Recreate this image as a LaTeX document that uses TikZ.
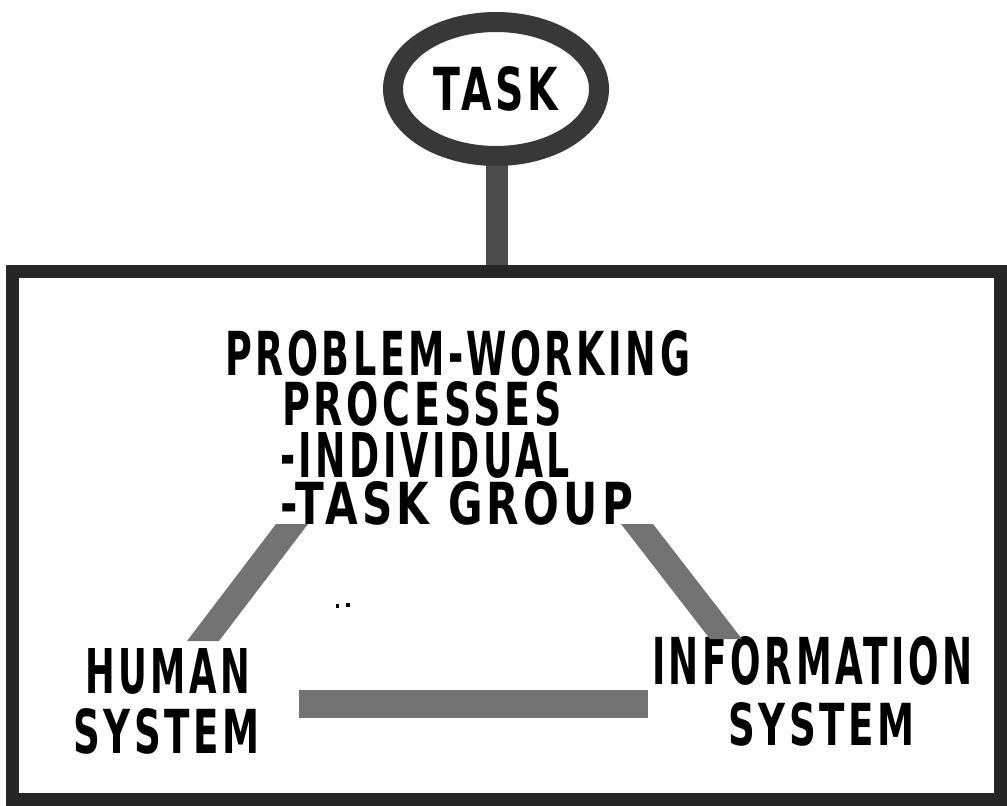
\documentclass[tikz,border=0pt]{standalone}
\usepackage{fontspec}
\setmainfont{DejaVu Sans}
\newfontfamily\pixfont[LetterSpace=10]{DejaVu Sans}
\usepackage{graphicx}
\usetikzlibrary{shapes.geometric,calc}
\newcommand{\fitline}[3]{\resizebox{#1pt}{#2pt}{\pixfont\bfseries #3}}
\begin{document}
\begin{tikzpicture}[x=1pt,y=-1pt,
  lbl/.style={anchor=north west, inner sep=0pt, outer sep=0pt, text=black},
  ringnode/.style={ellipse, draw=black!78, line width=20pt, inner sep=0pt,
    minimum width=206pt, minimum height=134pt},
  framebox/.style={rectangle, draw=black!85, line width=13pt, inner sep=0pt,
    minimum width=988pt, minimum height=528pt},
  stemline/.style={draw=black!70, line width=22pt, line cap=butt},
  barfill/.style={fill=black!55, draw=none},
  speck/.style={fill=black, draw=none}
]
\useasboundingbox (0,0) rectangle (1007,806);

% frame and task sign
\node[framebox] (frame) at (506.5,535.5) {};
\draw[stemline] (497,160) coordinate (stemtop) -- (frame.north -| stemtop);
\node[ringnode] (task) at (496,89) {\fitline{125}{44}{TASK}};

% central text
\node[lbl] (pw1) at (225,330) {\fitline{465}{45}{PROBLEM-WORKING}};
\node[lbl] (pw2) at (282,381) {\fitline{280}{44}{PROCESSES}};
\node[lbl] (pw3) at (280,432) {\fitline{290}{45}{-INDIVIDUAL}};
\node[lbl] (pw4) at (280,481) {\fitline{353}{43}{-TASK GROUP}};

% side labels
\node[lbl] (hum1) at (85,648) {\fitline{165}{45}{HUMAN}};
\node[lbl] (hum2) at (73,708) {\fitline{187}{45}{SYSTEM}};
\node[lbl] (inf1) at (652,636) {\fitline{321}{48}{INFORMATION}};
\node[lbl] (inf2) at (728,702) {\fitline{187}{43}{SYSTEM}};

% connecting bars (horizontal cut ends)
\coordinate (lbtop) at (292,524);
\coordinate (lbbot) at (203,641);
\coordinate (rbtop) at (637,524);
\coordinate (rbbot) at (726,639);
\fill[barfill] ($(lbtop)+(-16,0)$) -- ($(lbtop)+(16,0)$) -- ($(lbbot)+(16,0)$) -- ($(lbbot)+(-16,0)$) -- cycle;
\fill[barfill] ($(rbtop)+(-16,0)$) -- ($(rbtop)+(16,0)$) -- ($(rbbot)+(16,0)$) -- ($(rbbot)+(-16,0)$) -- cycle;
\coordinate (hbl) at (299,690);
\coordinate (hbr) at (648,718);
\fill[barfill] (hbl) rectangle (hbr);

% stray marks
\fill[speck] (336,604) rectangle (339,608);
\fill[speck] (346,603) rectangle (350,607);
\end{tikzpicture}
\end{document}
